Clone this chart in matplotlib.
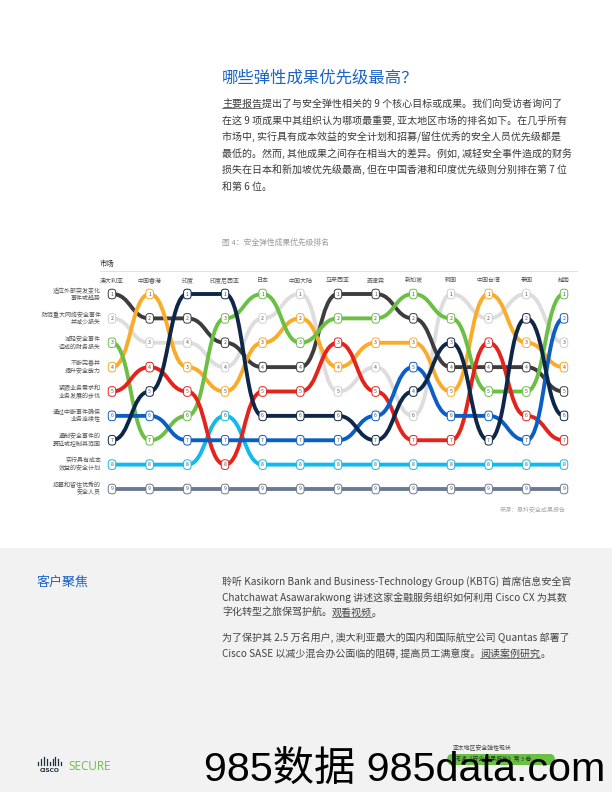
import matplotlib
matplotlib.use('Agg')
import matplotlib.pyplot as plt
from matplotlib.path import Path
from matplotlib.patches import PathPatch, Rectangle, FancyBboxPatch
from matplotlib.lines import Line2D

plt.rcParams['font.family'] = ['Noto Sans CJK SC', 'DejaVu Sans']

# ---------------- data ----------------
markets = ['澳大利亚', '中国香港', '印度', '印度尼西亚', '日本', '中国大陆', '马来西亚',
           '菲律宾', '新加坡', '韩国', '中国台湾', '泰国', '越南']
outcomes = ['适应外部突发变化\n事件或趋势', '防范重大网络安全事件\n并减少损失',
            '减轻安全事件\n造成的财务损失', '不断完善并\n提升安全能力',
            '紧跟业务需求和\n业务发展的步伐', '通过中断事件确保\n业务连续性',
            '遏制安全事件的\n蔓延或控制其范围', '实行具有成本\n效益的安全计划',
            '招募和留住优秀的\n安全人员']

# row position of each outcome in each market (same order as markets)
rank_adapt      = [1, 2, 2, 3, 4, 4, 1, 1, 2, 4, 4, 4, 5]
rank_prevent    = [2, 3, 3, 4, 2, 1, 5, 4, 6, 1, 2, 1, 3]
rank_financial  = [3, 7, 6, 2, 1, 3, 2, 2, 1, 2, 5, 5, 1]
rank_improve    = [4, 1, 4, 5, 3, 2, 4, 3, 3, 5, 1, 3, 4]
rank_business   = [5, 4, 5, 8, 5, 5, 3, 5, 7, 7, 3, 6, 7]
rank_continuity = [6, 6, 7, 7, 7, 7, 7, 6, 4, 6, 6, 7, 2]
rank_contain    = [7, 5, 1, 1, 6, 6, 6, 7, 5, 3, 7, 2, 6]
rank_cost       = [8, 8, 8, 6, 8, 8, 8, 8, 8, 8, 8, 8, 8]
rank_talent     = [9, 9, 9, 9, 9, 9, 9, 9, 9, 9, 9, 9, 9]

# printed labels that differ from the row position (ties): (market, outcome, label)
label_overrides = [(2, 1, 4), (2, 3, 3), (3, 0, 2), (3, 2, 3), (8, 5, 5), (8, 6, 4)]

ranks = [rank_adapt, rank_prevent, rank_financial, rank_improve, rank_business,
         rank_continuity, rank_contain, rank_cost, rank_talent]
colors = ['#3d3d3d', '#dddddd', '#6cbf45', '#fbab2a', '#e4241c',
          '#0b5fc4', '#0e2749', '#13b9ea', '#6c7a96']
draw_order = [1, 8, 7, 0, 3, 2, 4, 5, 6]

# ---------------- figure ----------------
W, H = 612, 792
fig = plt.figure(figsize=(W / 100, H / 100), dpi=100)
fig.patch.set_facecolor('white')


def fx(x):
    return x / W


def fy(y):
    return 1 - y / H


# bottom grey panel
fig.patches.append(Rectangle((0, 0), 1, fy(548), transform=fig.transFigure,
                             facecolor='#f2f2f2', edgecolor='none', zorder=0))

BLUE = '#1b63c6'
TXT = '#3a3a3a'

fig.text(fx(222), fy(78), '哪些弹性成果优先级最高？', fontsize=11.8, color=BLUE,
         va='center', ha='left')


def draw_runs(x, y, runs, **kw):
    fig.canvas.draw()
    r = fig.canvas.get_renderer()
    cur = x
    for s, ul in runs:
        t = fig.text(fx(cur), fy(y), s, va='center', ha='left', **kw)
        bb = t.get_window_extent(renderer=r)
        if ul:
            fig.add_artist(Line2D([bb.x0 / W, bb.x1 / W], [(bb.y0 + 1.2) / H] * 2,
                                  transform=fig.transFigure, color=kw.get('color', TXT),
                                  lw=0.5))
        cur = bb.x1


para = [
    [('主要报告', True), ('提出了与安全弹性相关的 9 个核心目标或成果。我们向受访者询问了', False)],
    [('在这 9 项成果中其组织认为哪项最重要, 亚太地区市场的排名如下。在几乎所有', False)],
    [('市场中, 实行具有成本效益的安全计划和招募/留住优秀的安全人员优先级都是', False)],
    [('最低的。然而, 其他成果之间存在相当大的差异。例如, 减轻安全事件造成的财务', False)],
    [('损失在日本和新加坡优先级最高, 但在中国香港和印度优先级则分别排在第 7 位', False)],
    [('和第 6 位。', False)],
]
for i, runs in enumerate(para):
    draw_runs(222, 104 + 16.5 * i, runs, fontsize=7.2, color=TXT)

fig.text(fx(222), fy(243), '图 4：安全弹性成果优先级排名', fontsize=5.6, color='#9a9a9a',
         va='center', ha='left')

fig.text(fx(100), fy(264), '市场', fontsize=5.3, color='#222222', va='center', ha='left')
fig.add_artist(Line2D([fx(100), fx(577)], [fy(270.5)] * 2, transform=fig.transFigure,
                      color='#dddddd', lw=0.6))

# ---------------- bump chart ----------------
x0px, stepx = 112, 37.667
y1px, stepy = 294, 24.375
ax = fig.add_axes([fx(x0px - 0.5 * stepx), fy(y1px + 8.5 * stepy),
                   13 * stepx / W, 9 * stepy / H])
ax.set_xlim(-0.5, 12.5)
ax.set_ylim(9.5, 0.5)
ax.axis('off')
ax.patch.set_alpha(0)

n = len(markets)
for z, k in enumerate(draw_order):
    p = ranks[k]
    verts = [(0, p[0])]
    codes = [Path.MOVETO]
    for i in range(n - 1):
        cx = i + 0.5
        verts += [(cx, p[i]), (cx, p[i + 1]), (i + 1, p[i + 1])]
        codes += [Path.CURVE4] * 3
    ax.add_patch(PathPatch(Path(verts, codes), fill=False, edgecolor=colors[k],
                           lw=2.8, capstyle='butt', joinstyle='round', zorder=2 + z * 0.1))

ovr = {(m, o): lab for m, o, lab in label_overrides}
for k in range(len(ranks)):
    for i in range(n):
        lab = ovr.get((i, k), ranks[k][i])
        ax.text(i, ranks[k][i], str(lab), ha='center', va='center', fontsize=3.7,
                color='#555555', zorder=10, clip_on=False,
                bbox=dict(boxstyle='round,pad=0.45,rounding_size=0.62', fc='white',
                          ec='#cfcfcf' if k == 1 else colors[k], lw=0.7))

for i, m in enumerate(markets):
    ax.text(i, 0.45, m, ha='center', va='center', fontsize=4.3, color='#555555',
            clip_on=False)

for k, lab in enumerate(outcomes):
    ax.text(-0.29, k + 1, lab, ha='right', va='center', fontsize=4.3, color='#555555',
            linespacing=1.25, multialignment='right', clip_on=False)

fig.text(fx(566), fy(510), '来源：思科安全成果报告', fontsize=4.3, color='#aaaaaa',
         va='center', ha='right')

# ---------------- customer spotlight ----------------
fig.text(fx(37), fy(582), '客户聚焦', fontsize=9.4, color=BLUE, va='center', ha='left')
bottom = [
    (582, [('聆听 Kasikorn Bank and Business-Technology Group (KBTG) 首席信息安全官', False)]),
    (597.5, [('Chatchawat Asawarakwong 讲述这家金融服务组织如何利用 Cisco CX 为其数', False)]),
    (613, [('字化转型之旅保驾护航。', False), ('观看视频', True), ('。', False)]),
    (638, [('为了保护其 2.5 万名用户, 澳大利亚最大的国内和国际航空公司 Quantas 部署了', False)]),
    (654, [('Cisco SASE 以减少混合办公面临的阻碍, 提高员工满意度。', False), ('阅读案例研究', True),
           ('。', False)]),
]
for y, runs in bottom:
    draw_runs(222, y, runs, fontsize=7.2, color='#444444')

# ---------------- footer ----------------
bar_h = [0.4, 0.7, 1.0, 0.7, 0.4, 0.7, 1.0, 0.7, 0.4]
for j, h in enumerate(bar_h):
    xb = 38 + j * 2.9
    fig.add_artist(Line2D([fx(xb), fx(xb)], [fy(765), fy(765 - 8 * h)],
                          transform=fig.transFigure, color='#1e2b3c', lw=0.9))
fig.text(fx(49.5), fy(770), 'CISCO', fontsize=4.3, fontweight='bold', color='#1e2b3c',
         va='center', ha='center', family=['DejaVu Sans'])
fig.text(fx(68), fy(767), 'SECURE', fontsize=8.5, color='#6cbf45', va='center', ha='left',
         family=['Open Sans', 'DejaVu Sans'])

fig.text(fx(453), fy(748), '亚太地区安全弹性现状', fontsize=4.2, color='#444444',
         va='center', ha='left')
fig.patches.append(FancyBboxPatch((fx(447), fy(765)), fx(108), 11 / H,
                                  boxstyle='round,pad=0,rounding_size=0.008',
                                  transform=fig.transFigure, facecolor='#6cbf45',
                                  edgecolor='none', zorder=1))
fig.text(fx(455), fy(759.5), '阅读《安全成果报告》第 3 卷', fontsize=4.2, color='#1e3a1e',
         va='center', ha='left', zorder=2)

# watermark
fig.text(fx(204), fy(781), '985数据 985data.com', fontsize=29.7, color='black',
         va='baseline', ha='left', family=['Liberation Sans', 'Noto Sans CJK SC'], zorder=5)

fig.savefig('out.png', dpi=100)
